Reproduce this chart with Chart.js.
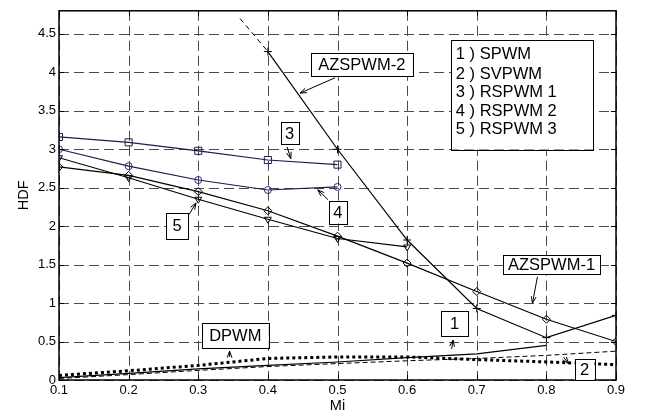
<!DOCTYPE html>
<html>
<head>
<meta charset="utf-8">
<script src="https://cdn.jsdelivr.net/npm/chart.js@4.4.0/dist/chart.umd.min.js"></script>
<style>
  html, body { margin: 0; padding: 0; background: #fff; }
  #wrap { width: 648px; height: 416px; }
</style>
</head>
<body>
<div id="wrap"><canvas id="hdfChart"></canvas></div>
<script>
var mi = [0.1, 0.2, 0.3, 0.4, 0.5, 0.6, 0.7, 0.8, 0.9];
var spwm = [0.03, 0.085, 0.145, 0.19, 0.234, 0.29, 0.34, 0.45, null];
var svpwm = [0.02, 0.07, 0.125, 0.175, 0.214, 0.25, 0.28, 0.32, 0.375];
var dpwm = [0.06, 0.12, 0.19, 0.28, 0.30, 0.30, 0.265, 0.235, 0.20];
var rspwm1 = [3.16, 3.09, 2.98, 2.86, 2.80, null, null, null, null];
var rspwm2 = [3.00, 2.78, 2.60, 2.47, 2.51, null, null, null, null];
var rspwm3 = [2.89, 2.63, 2.35, 2.09, 1.84, 1.73, null, null, null];
var azspwm1 = [2.77, 2.66, 2.45, 2.20, 1.87, 1.52, 1.15, 0.79, 0.50];
var azspwm2 = [null, null, null, 4.27, 3.00, 1.82, 0.93, 0.55, 0.84];
// dashed lead-in of AZSPWM-2 (comes down from above)
var azspwm2LeadMi = [0.36, 0.4];
var azspwm2Lead = [4.70, 4.27];

var legendLines = ['1 ) SPWM', '2 ) SVPWM', '3 ) RSPWM 1', '4 ) RSPWM 2', '5 ) RSPWM 3'];

// text boxes and arrows, in data units (Mi, HDF)
var noteBoxes = [
  { text: 'AZSPWM-2', x1: 0.4616, x2: 0.6082, y1: 4.251, y2: 3.953 },
  { text: '3', x1: 0.4185, x2: 0.4440, y1: 3.348, y2: 3.062 },
  { text: '4', x1: 0.4879, x2: 0.5134, y1: 2.331, y2: 2.037 },
  { text: '5', x1: 0.2537, x2: 0.2858, y1: 2.174, y2: 1.833 },
  { text: 'DPWM', x1: 0.3050, x2: 0.4013, y1: 0.745, y2: 0.418 },
  { text: '1', x1: 0.6489, x2: 0.6872, y1: 0.895, y2: 0.575 },
  { text: '2', x1: 0.8404, x2: 0.8691, y1: 0.2685, y2: -0.01 },
  { text: 'AZSPWM-1', x1: 0.7375, x2: 0.8773, y1: 1.620, y2: 1.372 }
];
var noteArrows = [
  { from: [0.4966, 3.930], to: [0.4463, 3.730] },
  { from: [0.4276, 3.031], to: [0.4329, 2.877] },
  { from: [0.4865, 2.344], to: [0.4717, 2.472] },
  { from: [0.2868, 2.152], to: [0.2968, 2.302] },
  { from: [0.3450, 0.300], to: [0.3450, 0.375] },
  { from: [0.6640, 0.405], to: [0.6660, 0.520] },
  { from: [0.8246, 0.298], to: [0.8318, 0.213] },
  { from: [0.7872, 1.343], to: [0.7800, 1.000] }
];
var legendBox = { x1: 0.6632, x2: 0.8677, y1: 4.421, y2: 2.997 };
var legendTextX = 0.670;
var legendLineY = [4.242, 3.985, 3.750, 3.503, 3.269];

var FONT = '"Liberation Sans", Arial, sans-serif';

function pts(vals, xs) {
  return (xs || mi).map(function (x, i) { return { x: x, y: vals[i] }; })
    .filter(function (p) { return p.y !== null; });
}

function fmt(v) { return String(Math.round(v * 10) / 10); }

// dashed grid, drawn under the lines
var gridPlugin = {
  id: 'dashGrid',
  beforeDatasetsDraw: function (chart) {
    var ctx = chart.ctx, a = chart.chartArea;
    var xs = chart.scales.x, ys = chart.scales.y;
    ctx.save();
    ctx.strokeStyle = '#4a4a4a';
    ctx.lineWidth = 1;
    ctx.setLineDash([10, 5]);
    xs.ticks.forEach(function (t) {
      var x = Math.round(xs.getPixelForValue(t.value)) + 0.5;
      ctx.beginPath(); ctx.moveTo(x, a.top); ctx.lineTo(x, a.bottom); ctx.stroke();
    });
    ys.ticks.forEach(function (t) {
      var y = Math.round(ys.getPixelForValue(t.value)) + 0.5;
      ctx.beginPath(); ctx.moveTo(a.left, y); ctx.lineTo(a.right, y); ctx.stroke();
    });
    ctx.restore();
  }
};

var notesPlugin = {
  id: 'notes',
  afterDraw: function (chart) {
    var ctx = chart.ctx, a = chart.chartArea;
    var xs = chart.scales.x, ys = chart.scales.y;
    var px = function (v) { return xs.getPixelForValue(v); };
    var py = function (v) { return ys.getPixelForValue(v); };
    ctx.save();

    // frame + inward ticks
    ctx.strokeStyle = '#000';
    ctx.lineWidth = 1.5;
    ctx.strokeRect(a.left, a.top, a.right - a.left, a.bottom - a.top);
    ctx.lineWidth = 1;
    ctx.beginPath();
    xs.ticks.forEach(function (t) {
      var x = Math.round(px(t.value)) + 0.5;
      ctx.moveTo(x, a.bottom); ctx.lineTo(x, a.bottom - 5);
      ctx.moveTo(x, a.top); ctx.lineTo(x, a.top + 5);
    });
    ys.ticks.forEach(function (t) {
      var y = Math.round(py(t.value)) + 0.5;
      ctx.moveTo(a.left, y); ctx.lineTo(a.left + 5, y);
      ctx.moveTo(a.right, y); ctx.lineTo(a.right - 5, y);
    });
    ctx.stroke();

    // arrows
    ctx.lineWidth = 1;
    noteArrows.forEach(function (ar) {
      var x0 = px(ar.from[0]), y0 = py(ar.from[1]);
      var x1 = px(ar.to[0]), y1 = py(ar.to[1]);
      var ang = Math.atan2(y1 - y0, x1 - x0);
      ctx.beginPath();
      ctx.moveTo(x0, y0); ctx.lineTo(x1, y1);
      ctx.moveTo(x1 - 7 * Math.cos(ang - 0.35), y1 - 7 * Math.sin(ang - 0.35));
      ctx.lineTo(x1, y1);
      ctx.lineTo(x1 - 7 * Math.cos(ang + 0.35), y1 - 7 * Math.sin(ang + 0.35));
      ctx.stroke();
    });

    // label boxes
    ctx.font = '16.5px ' + FONT;
    ctx.textAlign = 'center';
    ctx.textBaseline = 'middle';
    noteBoxes.forEach(function (b) {
      var l = px(b.x1), r = px(b.x2), t = py(b.y1), btm = Math.min(py(b.y2), a.bottom);
      ctx.fillStyle = '#fff';
      ctx.fillRect(l, t, r - l, btm - t);
      ctx.strokeRect(Math.round(l) + 0.5, Math.round(t) + 0.5, Math.round(r - l), Math.round(btm - t));
      ctx.fillStyle = '#000';
      ctx.fillText(b.text, (l + r) / 2, (t + btm) / 2 + 1);
    });

    // legend box
    var l = px(legendBox.x1), r = px(legendBox.x2), t = py(legendBox.y1), btm = py(legendBox.y2);
    ctx.fillStyle = '#fff';
    ctx.fillRect(l, t, r - l, btm - t);
    ctx.strokeRect(Math.round(l) + 0.5, Math.round(t) + 0.5, Math.round(r - l), Math.round(btm - t));
    ctx.fillStyle = '#000';
    ctx.textAlign = 'left';
    legendLines.forEach(function (s, i) {
      ctx.fillText(s, px(legendTextX), py(legendLineY[i]) + 1);
    });
    ctx.restore();
  }
};

window.onload = function () {
  var thin = 1.2;
  var config = {
    type: 'line',
    data: {
      datasets: [
        { label: 'AZSPWM-2', data: pts(azspwm2), borderColor: '#000', borderWidth: thin,
          pointStyle: 'cross', pointRadius: 4, pointBorderColor: '#000', pointBorderWidth: 1 },
        { label: 'AZSPWM-2 lead', data: pts(azspwm2Lead, azspwm2LeadMi), borderColor: '#000', borderWidth: 1,
          borderDash: [5, 4], pointRadius: 0 },
        { label: 'RSPWM 1', data: pts(rspwm1), borderColor: '#1c1c4a', borderWidth: thin,
          pointStyle: 'rect', pointRadius: 5, pointBorderColor: '#1c1c4a', pointBackgroundColor: 'rgba(0,0,0,0)', pointBorderWidth: 1 },
        { label: 'RSPWM 2', data: pts(rspwm2), borderColor: '#1c1c4a', borderWidth: thin,
          pointStyle: 'circle', pointRadius: 3.5, pointBorderColor: '#26307a', pointBackgroundColor: 'rgba(0,0,0,0)', pointBorderWidth: 1 },
        { label: 'RSPWM 3', data: pts(rspwm3), borderColor: '#000', borderWidth: thin,
          pointStyle: 'triangle', pointRotation: 180, pointRadius: 4, pointBorderColor: '#000', pointBackgroundColor: 'rgba(0,0,0,0)', pointBorderWidth: 1 },
        { label: 'AZSPWM-1', data: pts(azspwm1), borderColor: '#000', borderWidth: thin,
          pointStyle: 'rectRot', pointRadius: 4, pointBorderColor: '#000', pointBackgroundColor: 'rgba(0,0,0,0)', pointBorderWidth: 1 },
        { label: 'SPWM', data: pts(spwm), borderColor: '#000', borderWidth: thin, pointRadius: 0 },
        { label: 'SVPWM', data: pts(svpwm), borderColor: '#000', borderWidth: 1, borderDash: [5, 3], pointRadius: 0 },
        { label: 'DPWM', data: pts(dpwm), borderColor: '#000', borderWidth: 3, borderDash: [3, 3], pointRadius: 0 }
      ]
    },
    options: {
      responsive: true,
      maintainAspectRatio: false,
      animation: false,
      layout: { padding: { top: 4, right: 32, left: 0, bottom: 0 } },
      plugins: { legend: { display: false }, tooltip: { enabled: false } },
      elements: { line: { tension: 0 } },
      scales: {
        x: {
          type: 'linear', min: 0.1, max: 0.9,
          afterFit: function (s) { s.height = 36; },
          ticks: { stepSize: 0.1, color: '#000', padding: 3, maxRotation: 0,
            font: { family: FONT, size: 13 }, callback: fmt },
          grid: { display: false, drawTicks: false },
          border: { display: false },
          title: { display: true, text: 'Mi', color: '#000',
            font: { family: FONT, size: 14.5 }, padding: { top: 0, bottom: 1 } }
        },
        y: {
          min: 0, max: 4.8,
          afterFit: function (s) { s.width = 59; },
          ticks: { stepSize: 0.5, includeBounds: false, color: '#000', padding: 3,
            font: { family: FONT, size: 13 }, callback: fmt },
          grid: { display: false, drawTicks: false },
          border: { display: false },
          title: { display: true, text: 'HDF', color: '#000',
            font: { family: FONT, size: 14.5 }, padding: { top: 15, bottom: 0 } }
        }
      }
    },
    plugins: [gridPlugin, notesPlugin]
  };

  var ctx = document.getElementById('hdfChart').getContext('2d');
  window.hdfChart = new Chart(ctx, config);
};
</script>
</body>
</html>
